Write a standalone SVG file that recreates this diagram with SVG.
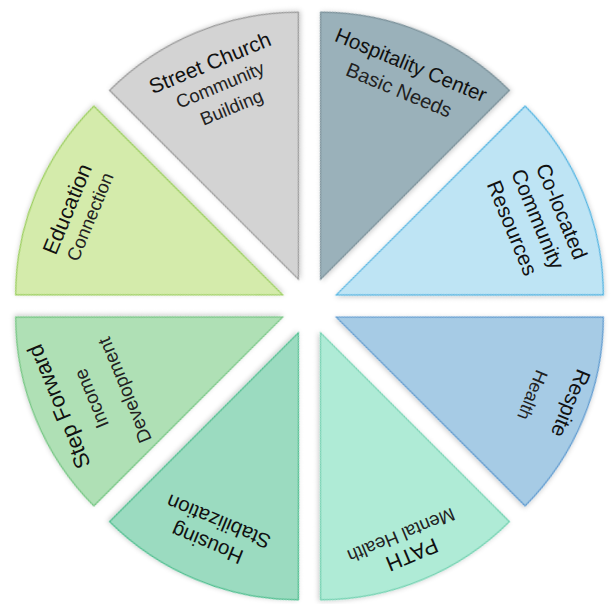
<svg xmlns="http://www.w3.org/2000/svg" width="613" height="604" viewBox="0 0 613 604">
<style>
.w{stroke-width:1.3;filter:url(#sh)}
text{font-family:"Liberation Sans",Arial,sans-serif;fill:#111111;text-anchor:middle}
.sub{fill:#222222}
</style>
<defs>
<filter id="sh" x="-10%" y="-10%" width="120%" height="120%">
<feDropShadow dx="0" dy="1.5" stdDeviation="2.5" flood-color="#000" flood-opacity="0.22"/>
</filter>
<path id="wedge" d="M0,0 L246.68,-102.18 A267,267 0 0 1 246.68,102.18 Z"/>
</defs>
<rect width="613" height="604" fill="#ffffff"/>
<g id="street-church" transform="translate(298.4,279.21) rotate(-112.5)">
<use href="#wedge" class="w" fill="#d3d3d3" stroke="#9a9a9a"/>
<g transform="rotate(90)">
<text x="1" y="-226.5" font-size="21">Street Church</text>
<text class="sub" x="2" y="-203" font-size="18.5">Community</text>
<text class="sub" x="4" y="-178" font-size="18.5">Building</text>
</g>
</g>
<g id="hospitality-center" transform="translate(320.6,279.21) rotate(-67.5)">
<use href="#wedge" class="w" fill="#9ab1ba" stroke="#7a9099"/>
<g transform="rotate(90)">
<text x="1.5" y="-225.5" font-size="20.5">Hospitality Center</text>
<text class="sub" x="0" y="-198" font-size="20">Basic Needs</text>
</g>
</g>
<g id="co-located" transform="translate(336.29,294.9) rotate(-22.5)">
<use href="#wedge" class="w" fill="#bee4f4" stroke="#52b5e2"/>
<g transform="rotate(90)">
<text x="9" y="-233" font-size="21">Co-located</text>
<text x="7" y="-208" font-size="21">Community</text>
<text x="5.5" y="-181" font-size="21">Resources</text>
</g>
</g>
<g id="respite" transform="translate(336.29,317.1) rotate(22.5)">
<use href="#wedge" class="w" fill="#a6cbe5" stroke="#5f9bd0"/>
<g transform="rotate(90)">
<text x="-10" y="-242.5" font-size="21">Respite</text>
<text class="sub" x="-3" y="-205" font-size="18">Health</text>
</g>
</g>
<g id="path" transform="translate(320.6,332.79) rotate(67.5)">
<use href="#wedge" class="w" fill="#afebd6" stroke="#72d2b1"/>
<g transform="rotate(90)">
<text x="0.5" y="-232.5" font-size="21.5">PATH</text>
<text class="sub" x="3" y="-211.5" font-size="18.5">Mental Health</text>
</g>
</g>
<g id="housing-stabilization" transform="translate(298.4,332.79) rotate(112.5)">
<use href="#wedge" class="w" fill="#9bdbc0" stroke="#4fbf90"/>
<g transform="rotate(90)">
<text x="3.5" y="-222.5" font-size="20.5">Housing</text>
<text x="1.5" y="-198" font-size="20.5">Stabilization</text>
</g>
</g>
<g id="step-forward" transform="translate(282.71,317.1) rotate(157.5)">
<use href="#wedge" class="w" fill="#afe0b5" stroke="#75c683"/>
<g transform="rotate(90)">
<text x="3" y="-233.5" font-size="22">Step Forward</text>
<text class="sub" x="-2" y="-201.5" font-size="19">Income</text>
<text class="sub" x="-7" y="-167.5" font-size="19">Development</text>
</g>
</g>
<g id="education" transform="translate(282.71,294.9) rotate(202.5)">
<use href="#wedge" class="w" fill="#d4ebab" stroke="#9ccf5f"/>
<g transform="rotate(90)">
<text x="-3" y="-224.5" font-size="21.5">Education</text>
<text class="sub" x="-1.5" y="-201.5" font-size="18.5">Connection</text>
</g>
</g>
<g id="connectors"></g>
</svg>
